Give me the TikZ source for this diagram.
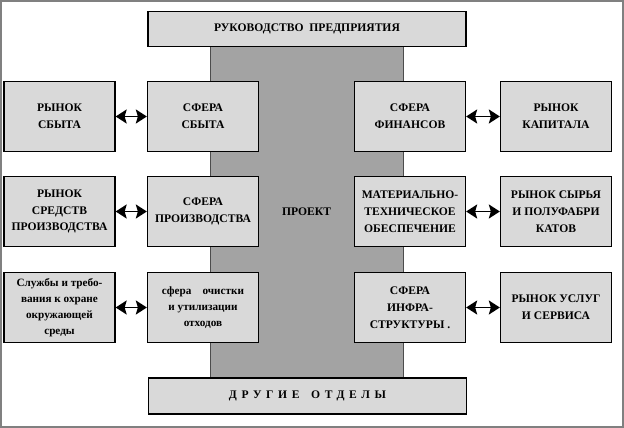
\documentclass[tikz,border=0pt]{standalone}
\usepackage{fontspec}
\setmainfont{Liberation Serif}
\newfontfamily\spacedfont[LetterSpace=40]{Liberation Serif}
\usetikzlibrary{positioning}
\usetikzlibrary{arrows.meta}

\colorlet{boxgray}{black!15}
\colorlet{colgray}{black!36}

\begin{document}
\begin{tikzpicture}[x=1pt,y=-1pt,
  box/.style={draw=black, line width=1.3pt, fill=boxgray, align=center,
    minimum width=111pt, minimum height=70pt, inner sep=1pt,
    font=\fontsize{11.6}{16.8}\selectfont\bfseries},
  smallbox/.style={box, font=\fontsize{11.2}{16}\selectfont\bfseries},
  widebox/.style={box, minimum width=318pt, minimum height=35pt},
  arr/.style={{Stealth[length=11pt,width=14pt,inset=2pt]}-{Stealth[length=11pt,width=14pt,inset=2pt]}, line width=1.8pt}
]
\useasboundingbox (0,0) rectangle (624,428);
\draw[gray, line width=2pt] (1,1) rectangle (623,427);

%central column
\node (proekt) at (306.5,212) [draw=black!70, line width=0.4pt, fill=colgray,
  minimum width=193pt, minimum height=332pt, font=\fontsize{11.6}{13}\selectfont\bfseries] {ПРОЕКТ};

\node (head) at (307,29) [widebox] {РУКОВОДСТВО\enspace ПРЕДПРИЯТИЯ};
\node (other) at (307.5,396) [widebox, minimum height=36pt] {\spacedfont ДРУГИЕ\quad ОТДЕЛЫ};

%row 1
\node (rsbyt) at (59.5,116.5) [box] {РЫНОК\\СБЫТА};
\node (ssbyt) at (203,116.5) [box] {СФЕРА\\СБЫТА};
\node (sfin) at (410,116.5) [box] {СФЕРА\\ФИНАНСОВ};
\node (rkap) at (556,116.5) [box] {РЫНОК\\КАПИТАЛА};

%row 2
\node (rsred) at (59.5,211.5) [box] {РЫНОК\\СРЕДСТВ\\ПРОИЗВОДСТВА};
\node (sproiz) at (203,211.5) [box] {СФЕРА\\ПРОИЗВОДСТВА};
\node (mto) at (410,211.5) [box] {МАТЕРИАЛЬНО-\\ТЕХНИЧЕСКОЕ\\ОБЕСПЕЧЕНИЕ};
\node (rsyr) at (556,211.5) [box] {РЫНОК СЫРЬЯ\\И ПОЛУФАБРИ\\КАТОВ};

%row 3
\node (sluzh) at (59.5,307.5) [smallbox] {Службы и требо-\\вания к охране\\окружающей\\среды};
\node (sochist) at (203,307.5) [smallbox] {сфера\quad очистки\\и утилизации\\отходов};
\node (sinfra) at (410,307.5) [box] {СФЕРА\\ИНФРА-\\СТРУКТУРЫ .};
\node (rusl) at (556,307.5) [box] {РЫНОК УСЛУГ\\И СЕРВИСА};

%arrows
\draw[arr] (rsbyt) -- (ssbyt);
\draw[arr] (sfin) -- (rkap);
\draw[arr] (rsred) -- (sproiz);
\draw[arr] (mto) -- (rsyr);
\draw[arr] (sluzh) -- (sochist);
\draw[arr] (sinfra) -- (rusl);

\end{tikzpicture}
\end{document}
